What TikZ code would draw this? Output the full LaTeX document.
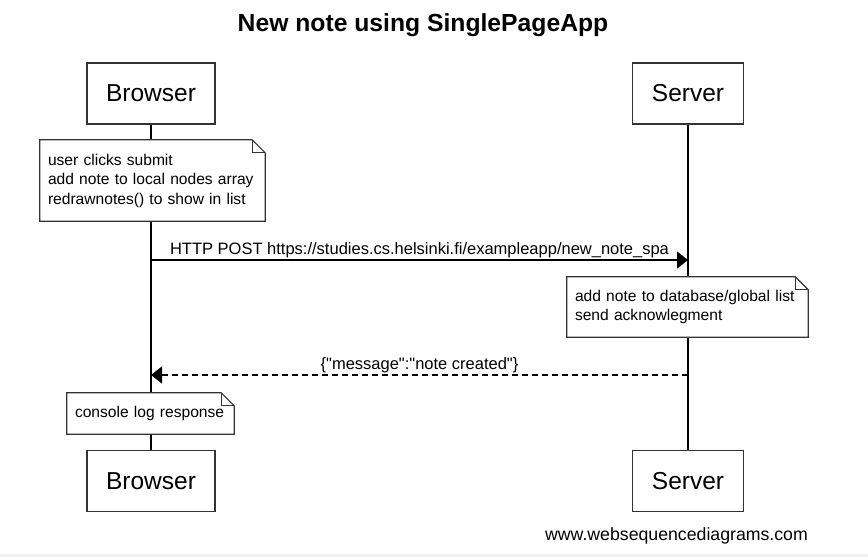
\documentclass[tikz,border=0pt]{standalone}
\usepackage{fontspec}
\setmainfont{Liberation Sans}[Ligatures=TeXOff]
\usetikzlibrary{arrows.meta}
\definecolor{boxline}{HTML}{333333}
\tikzset{
  participant/.style={draw=boxline, line width=1.4pt, fill=white, minimum height=61pt, inner sep=0pt, font=\fontsize{24.5}{28}\selectfont},
  lifeline/.style={line width=1.3pt, black},
  notebox/.style={fill=white, inner xsep=8pt, inner ysep=0pt, align=left, font=\fontsize{15.6}{19.5}\selectfont},
  noteline/.style={draw=boxline, line width=1.2pt},
  msg/.style={line width=1.2pt, -{Triangle[length=11pt,width=17pt]}},
  reply/.style={msg, dash pattern=on 6pt off 4pt},
  msglabel/.style={font=\fontsize{16.5}{19}\selectfont, anchor=base, inner sep=0pt},
}
\newcommand{\dogear}[1]{%
  \draw[noteline] (#1.north west) -- ([xshift=-13pt]#1.north east) -- ([yshift=-13pt]#1.north east) -- (#1.south east) -- (#1.south west) -- cycle;
  \draw[noteline, line width=0.9pt] ([xshift=-13pt]#1.north east) |- ([yshift=-13pt]#1.north east);
}
\begin{document}
\begin{tikzpicture}[x=1pt,y=-1pt]
\useasboundingbox (0,0) rectangle (868,557);
\fill[gray!12] (0,554) rectangle (868,557);
\node[font=\bfseries\fontsize{24.7}{28}\selectfont, anchor=base] (title) at (423,31.5) {New note using SinglePageApp};

\node[participant, minimum width=128pt] (bt) at (151,93.5) {Browser};
\node[participant, minimum width=111pt] (st) at (688,93.5) {Server};
\node[participant, minimum width=128pt] (bb) at (151,481) {Browser};
\node[participant, minimum width=111pt] (sb) at (688,481) {Server};

\draw[lifeline] (bt.south) -- (bb.north);
\draw[lifeline] (st.south) -- (sb.north);

\node[notebox, minimum width=225pt, minimum height=81pt, text width=209pt] (n1) at (152.5,180.5) {user clicks submit\\add note to local nodes array\\redrawnotes() to show in list};
\dogear{n1}

\coordinate (p1) at (151,260);
\coordinate (p2) at (688,260);
\draw[msg] (p1) -- (p2);
\node[msglabel] (l1) at (419.5,254) {HTTP POST https://studies.cs.helsinki.fi/exampleapp/new\_note\_spa};

\node[notebox, minimum width=241pt, minimum height=60pt, text width=225pt] (n2) at (687.5,307) {add note to database/global list\\send acknowlegment};
\dogear{n2}

\coordinate (r1) at (688,375);
\coordinate (r2) at (151,375);
\draw[reply] (r1) -- (r2);
\node[msglabel] (l2) at (419.5,369.5) {\{"message":"note created"\}};

\node[notebox, minimum width=167pt, minimum height=41pt, text width=151pt] (n3) at (150.5,413.5) {console log response};
\dogear{n3}

\node[font=\fontsize{17.7}{20}\selectfont, anchor=base] (footer) at (676.5,540) {www.websequencediagrams.com};
\end{tikzpicture}
\end{document}
